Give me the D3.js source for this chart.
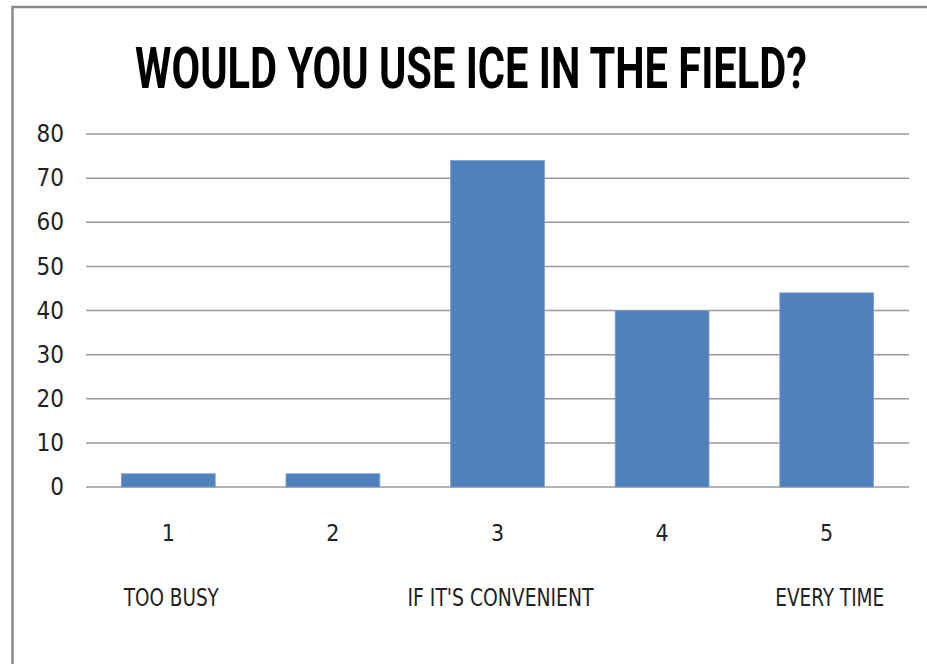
<!DOCTYPE html>
<html>
<head>
<meta charset="utf-8">
<script src="https://cdn.jsdelivr.net/npm/d3@7"></script>
<style>
  body { margin: 0; background: #fff; }
  svg { display: block; }
  .axis .domain, .axis .tick line { display: none; }
  .axis text { font-family: "DejaVu Sans Condensed", sans-serif; fill: #222; }
</style>
</head>
<body>
<div id="chart"></div>
<script>
// chart data
var categories = ["1", "2", "3", "4", "5"];
var counts = [3, 3, 74, 40, 44];
var answerLabels = ["TOO BUSY", "", "IF IT'S CONVENIENT", "", "EVERY TIME"];
var yTicks = [0, 10, 20, 30, 40, 50, 60, 70, 80];
var chartTitle = "WOULD YOU USE ICE IN THE FIELD?";

var width = 927, height = 664;
var margin = {top: 134, right: 18, bottom: 177, left: 86};
var innerW = width - margin.left - margin.right;
var innerH = height - margin.top - margin.bottom;

var svg = d3.select("#chart").append("svg")
    .attr("width", width)
    .attr("height", height);

// outer frame
svg.append("rect")
    .attr("x", 12.5)
    .attr("y", 7)
    .attr("width", width + 20)
    .attr("height", height + 20)
    .attr("fill", "none")
    .attr("stroke", "#8a8a8a")
    .attr("stroke-width", 2.5);

// squeeze a text horizontally to a wanted width (narrow font look)
function fitText(sel, cx, cy, wanted) {
    var w = sel.node().getComputedTextLength();
    var k = Math.min(1, wanted / w);
    sel.attr("text-anchor", "middle")
        .attr("transform", "translate(" + cx + "," + cy + ") scale(" + k + ",1)");
}

var title = svg.append("text")
    .attr("font-family", "Roboto, 'DejaVu Sans', sans-serif")
    .attr("font-weight", "bold")
    .attr("font-size", 57)
    .attr("fill", "#000")
    .text(chartTitle);
fitText(title, 471, 88, 672);

var g = svg.append("g")
    .attr("transform", "translate(" + margin.left + "," + margin.top + ")");

var x = d3.scaleBand()
    .domain(categories)
    .range([0, innerW])
    .paddingInner(0.43)
    .paddingOuter(0.215);

var y = d3.scaleLinear()
    .domain([0, 80])
    .range([innerH, 0]);

// gridlines
g.selectAll(".grid")
    .data(yTicks)
    .enter().append("line")
    .attr("class", "grid")
    .attr("x1", 0)
    .attr("x2", innerW)
    .attr("y1", function(d) { return y(d); })
    .attr("y2", function(d) { return y(d); })
    .attr("stroke", "#9a9a9a")
    .attr("stroke-width", 1.5);

// bars
g.selectAll(".bar")
    .data(counts)
    .enter().append("rect")
    .attr("class", "bar")
    .attr("x", function(d, i) { return x(categories[i]); })
    .attr("y", function(d) { return y(d); })
    .attr("width", x.bandwidth())
    .attr("height", function(d) { return innerH - y(d); })
    .attr("fill", "#4f81bd")
    .attr("stroke", "#7d9fcf")
    .attr("stroke-width", 0.8);

// y axis
var yAxis = g.append("g")
    .attr("class", "axis")
    .call(d3.axisLeft(y).tickValues(yTicks).tickSize(0).tickPadding(22));
yAxis.selectAll("text").attr("font-size", 24);

// x axis (numbers)
var xAxis = g.append("g")
    .attr("class", "axis")
    .attr("transform", "translate(0," + innerH + ")")
    .call(d3.axisBottom(x).tickSize(0).tickPadding(38));
xAxis.selectAll("text").attr("font-size", 23);

// answer labels under the numbers
var labelWidths = {"TOO BUSY": 95, "IF IT'S CONVENIENT": 186, "EVERY TIME": 109};
g.selectAll(".answer")
    .data(answerLabels.filter(function(d) { return d !== ""; }))
    .enter().append("text")
    .attr("class", "answer")
    .attr("font-family", "'DejaVu Sans Condensed', sans-serif")
    .attr("font-size", 24)
    .attr("fill", "#222")
    .text(function(d) { return d; })
    .each(function(d) {
        var i = answerLabels.indexOf(d);
        fitText(d3.select(this), x(categories[i]) + x.bandwidth() / 2 + 3, innerH + 119, labelWidths[d]);
    });
</script>
</body>
</html>
